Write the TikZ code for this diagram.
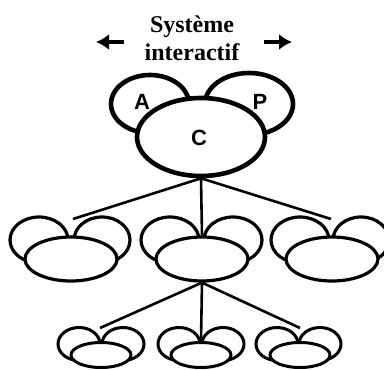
\documentclass[tikz,border=0pt]{standalone}
\usepackage{fontspec}
\setmainfont{Liberation Serif}
\newfontfamily\lettersfont{Liberation Sans}
\usepackage{tikz}
\usetikzlibrary{arrows.meta,positioning,shapes.geometric}

\tikzset{
	topblob/.style={ellipse, draw, fill=white, line width=4.6pt, inner sep=0pt},
	midblob/.style={ellipse, draw, fill=white, line width=3.2pt, inner sep=0pt},
	lowblob/.style={ellipse, draw, fill=white, line width=3pt, inner sep=0pt},
	link/.style={line width=2.6pt},
	sidearrow/.style={line width=4pt, -{Latex[length=13pt,width=16pt]}},
	letter/.style={font=\lettersfont\bfseries\fontsize{22}{22}\selectfont}
}

\begin{document}
\begin{tikzpicture}[x=1pt, y=-1pt]
		\useasboundingbox (0,0) rectangle (384,370);
		
		% title and arrows
		\node[align=center, font=\bfseries\fontsize{24}{28}\selectfont] (title) at (192,38) {Syst\`eme\\interactif};
		\coordinate (lfrom) at (124,42);
		\coordinate (lto) at (96,42);
		\coordinate (rfrom) at (264,42);
		\coordinate (rto) at (292,42);
		\draw[sidearrow] (lfrom) -- (lto);
		\draw[sidearrow] (rfrom) -- (rto);
		
		% top level
		\node[topblob, minimum width=78, minimum height=58] (a) at (150,104) {};
		\node[topblob, minimum width=88, minimum height=62] (p) at (249,104) {};
		\node[topblob, minimum width=128, minimum height=78] (c) at (201,137) {};
		\node[letter] (la) at (142,102) {A};
		\node[letter] (lp) at (260,102) {P};
		\node[letter] (lc) at (199,138) {C};
		
		% middle level
		\node[midblob, minimum width=58, minimum height=46] (la1) at (39,240) {};
		\node[midblob, minimum width=56, minimum height=46] (la2) at (102,240) {};
		\node[midblob, minimum width=92, minimum height=44] (lb) at (71,259) {};
		
		\node[midblob, minimum width=58, minimum height=46] (ma1) at (170,240) {};
		\node[midblob, minimum width=58, minimum height=46] (ma2) at (233,240) {};
		\node[midblob, minimum width=92, minimum height=44] (mb) at (202,259) {};
		
		\node[midblob, minimum width=58, minimum height=46] (ra1) at (300,240) {};
		\node[midblob, minimum width=56, minimum height=46] (ra2) at (361,240) {};
		\node[midblob, minimum width=92, minimum height=44] (rb) at (332,259) {};
		
		\coordinate (ltip) at (73,219);
		\coordinate (rtip) at (331,219);
		\draw[link] (c.south) -- (ltip);
		\draw[link] (c.south) -- (mb.north);
		\draw[link] (c.south) -- (rtip);
		
		% bottom level
		\node[lowblob, minimum width=42, minimum height=33] (bl1) at (79,344) {};
		\node[lowblob, minimum width=42, minimum height=33] (bl2) at (123,344) {};
		\node[lowblob, minimum width=60, minimum height=25] (bl) at (101,355) {};
		
		\node[lowblob, minimum width=42, minimum height=33] (bm1) at (179,344) {};
		\node[lowblob, minimum width=42, minimum height=33] (bm2) at (223,344) {};
		\node[lowblob, minimum width=60, minimum height=25] (bm) at (201,355) {};
		
		\node[lowblob, minimum width=42, minimum height=33] (br1) at (277,344) {};
		\node[lowblob, minimum width=42, minimum height=33] (br2) at (320,344) {};
		\node[lowblob, minimum width=60, minimum height=25] (br) at (300,355) {};
		
		\coordinate (bltip) at (100,328);
		\coordinate (brtip) at (300,328);
		\draw[link] (mb.south) -- (bltip);
		\draw[link] (mb.south) -- (bm.north);
		\draw[link] (mb.south) -- (brtip);
	\end{tikzpicture}
\end{document}
